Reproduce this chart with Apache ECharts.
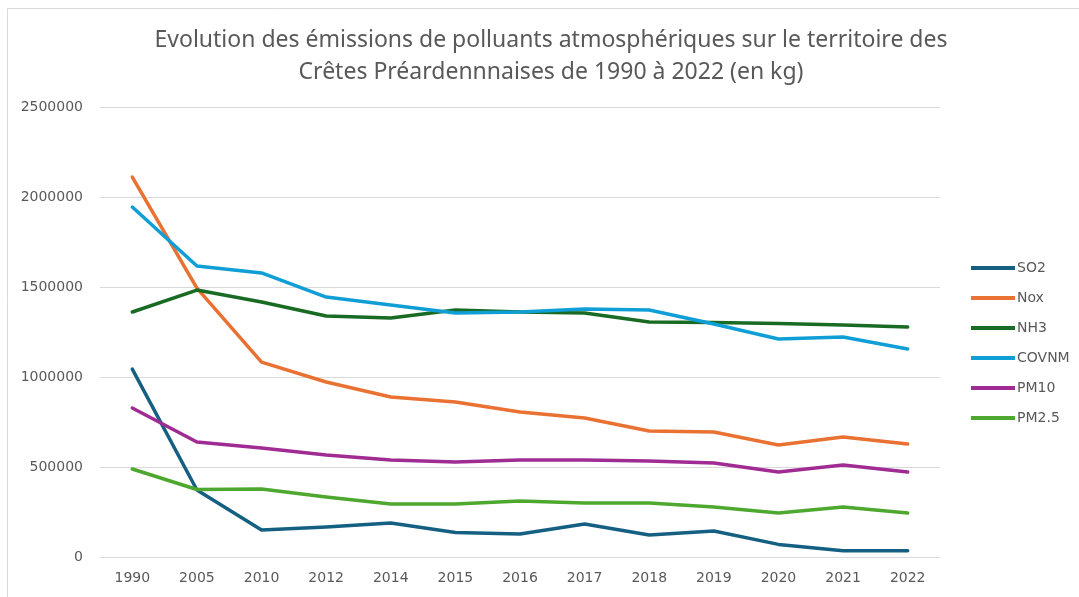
<!DOCTYPE html>
<html><head><meta charset="utf-8">
<script src="https://cdn.jsdelivr.net/npm/echarts@6/dist/echarts.min.js"></script>
<style>html,body{margin:0;padding:0;background:#fff}#c{width:1079px;height:597px}</style>
</head><body><div id="c"></div>
<script>
const titleText = "Evolution des émissions de polluants atmosphériques sur le territoire des\nCrêtes Préardennnaises de 1990 à 2022 (en kg)";
const years = ["1990","2005","2010","2012","2014","2015","2016","2017","2018","2019","2020","2021","2022"];
const seriesNames = ["SO2","Nox","NH3","COVNM","PM10","PM2.5"];
const so2   = [1044000, 372000, 150000, 167000, 189000, 136000, 128000, 183000, 122000, 144000, 70000, 35000, 35000];
const nox   = [2111000, 1494000, 1083000, 972000, 889000, 861000, 806000, 772000, 700000, 694000, 622000, 667000, 628000];
const nh3   = [1361000, 1483000, 1417000, 1339000, 1328000, 1372000, 1361000, 1356000, 1306000, 1303000, 1297000, 1289000, 1278000];
const covnm = [1944000, 1617000, 1578000, 1444000, 1400000, 1356000, 1361000, 1378000, 1372000, 1294000, 1211000, 1222000, 1156000];
const pm10  = [828000, 639000, 606000, 567000, 539000, 528000, 539000, 539000, 533000, 522000, 472000, 511000, 472000];
const pm25  = [489000, 375000, 378000, 333000, 294000, 294000, 311000, 300000, 300000, 278000, 244000, 278000, 244000];
const yTicks = [0, 500000, 1000000, 1500000, 2000000, 2500000];
const colors = ["#156082","#E97132","#196B24","#0F9ED5","#A02B93","#4EA72E"];

const dataSets = [so2, nox, nh3, covnm, pm10, pm25];
const chart = echarts.init(document.getElementById('c'));
chart.setOption({
  animation: false,
  backgroundColor: '#fff',
  color: colors,
  graphic: [{type:'rect', shape:{x:7.5,y:8.5,width:1100,height:620}, style:{fill:'none', stroke:'#d9d9d9', lineWidth:1}, silent:true}],
  title: {
    text: titleText, left: 546, top: 19, textAlign: 'center',
    textStyle: {fontFamily: 'Noto Sans', fontSize: 23, fontWeight: 'normal', color: '#595959', lineHeight: 32}
  },
  legend: {
    orient: 'vertical', left: 966, top: 256, itemGap: 16, itemWidth: 44, itemHeight: 20,
    icon: 'path://M0,8 L44,8 L44,12 L0,12 Z',
    textStyle: {fontFamily: 'DejaVu Sans', fontSize: 14, color: '#595959', padding:[0,0,0,-3]},
    data: seriesNames
  },
  grid: {left: 100, right: 139, top: 107, bottom: 40, containLabel: false},
  xAxis: {
    type: 'category', data: years, boundaryGap: true,
    axisLine: {lineStyle: {color: '#d9d9d9', width: 1}},
    axisTick: {show: false},
    axisLabel: {fontFamily: 'DejaVu Sans', fontSize: 14, color: '#595959', margin: 14}
  },
  yAxis: {
    type: 'value', min: 0, max: yTicks[yTicks.length-1], interval: 500000,
    axisLine: {show: false}, axisTick: {show: false},
    splitLine: {lineStyle: {color: '#d9d9d9', width: 1}},
    axisLabel: {fontFamily: 'DejaVu Sans', fontSize: 14, color: '#595959', margin: 17, formatter: v => String(v)}
  },
  series: seriesNames.map((n, i) => ({
    name: n, type: 'line', data: dataSets[i], showSymbol: false, symbol: 'none',
    lineStyle: {width: 3.5, color: colors[i], cap: 'round', join: 'round'},
    itemStyle: {color: colors[i]}
  }))
});
</script></body></html>
